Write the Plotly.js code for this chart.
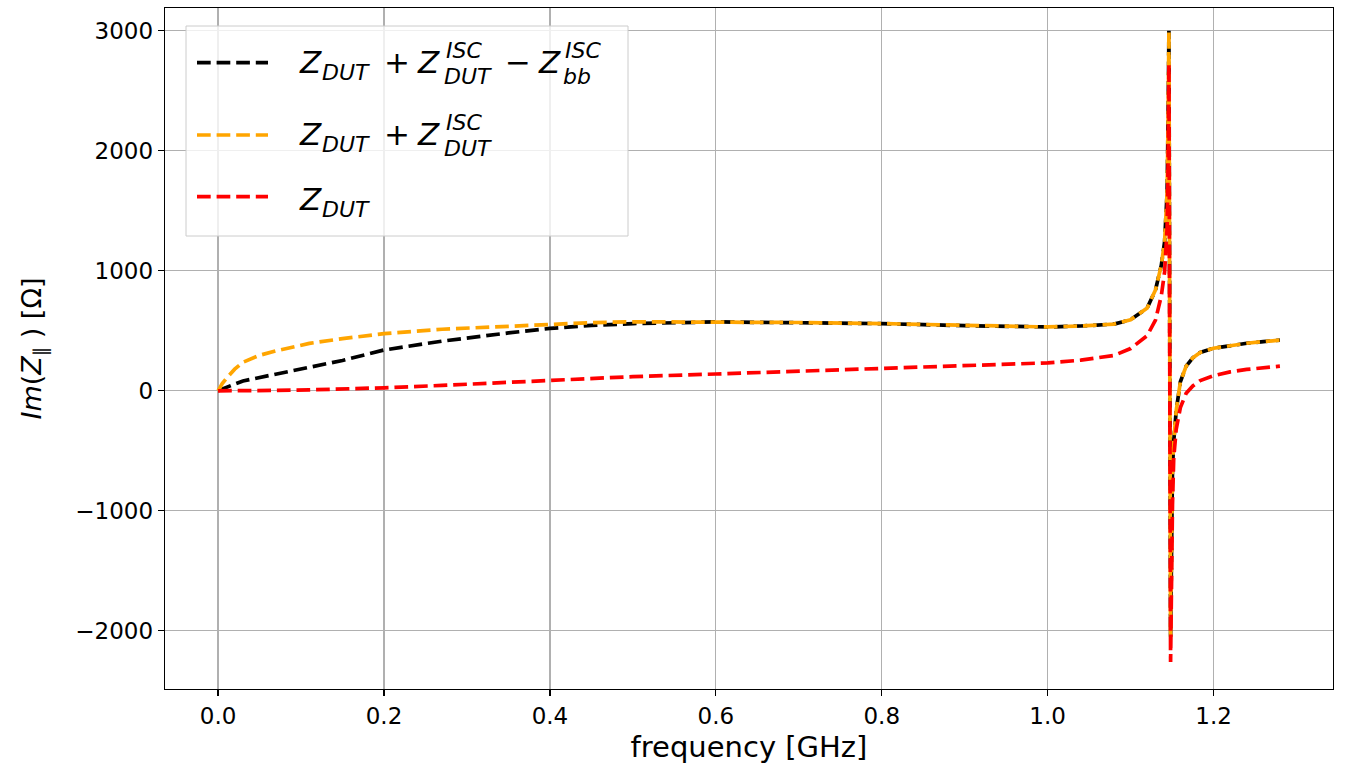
<!DOCTYPE html>
<html>
<head>
<meta charset="utf-8">
<script src="https://cdn.plot.ly/plotly-3.0.1.min.js"></script>
<style>html,body{margin:0;padding:0;background:#fff;}#chart{width:1347px;height:769px;}</style>
</head>
<body>
<div id="chart"></div>
<script>
// ---- data ----
const freq = [0, 0.005, 0.012, 0.02, 0.03, 0.05, 0.07, 0.11, 0.15, 0.2,
  0.27, 0.35, 0.4, 0.45, 0.5, 0.6, 0.7, 0.8, 0.9, 1.0,
  1.04, 1.08, 1.1, 1.12, 1.13, 1.137, 1.141, 1.144, 1.1452, 1.1462,
  1.1482, 1.1492, 1.1505, 1.152, 1.155, 1.16, 1.167, 1.175, 1.184, 1.2,
  1.22, 1.24, 1.26, 1.28];
const zDutIscMinusBb = [0, 12, 34, 56, 82, 110, 137, 200, 253, 340,
  414, 482, 520, 545, 560, 574, 569, 560, 543, 532,
  540, 556, 592, 690, 840, 1045, 1241, 1650, 2250, 3000,
  -2050, -1250, -650, -420, -165, 75, 205, 275, 320, 355,
  378, 396, 410, 422];
const zDutIsc = [0, 60, 120, 180, 238, 296, 333, 395, 435, 476,
  513, 540, 556, 568, 575, 574, 569, 560, 543, 532,
  540, 556, 592, 690, 840, 1045, 1241, 1650, 2250, 3000,
  -2050, -1250, -650, -420, -165, 75, 205, 275, 320, 355,
  378, 396, 410, 422];
const zDut = [0, 0, 0, 0, 1, 2, 3, 8, 15, 25,
  45, 70, 92, 105, 118, 140, 162, 182, 204, 233,
  255, 295, 352, 460, 590, 790, 990, 1350, 1900, 2725,
  -2260, -1500, -950, -560, -320, -140, -20, 40, 85, 125,
  158, 178, 193, 205];
const seriesNames = ['Z_DUT + Z_DUT^ISC − Z_bb^ISC', 'Z_DUT + Z_DUT^ISC', 'Z_DUT'];
const seriesColors = ['#000000', '#FFA500', '#FF0000'];
const xTickVals = [0, 0.2, 0.4, 0.6, 0.8, 1.0, 1.2];
const yTickVals = [-2000, -1000, 0, 1000, 2000, 3000];

// ---- layout geometry ----
const W = 1347, H = 769;
const M = {l: 165, r: 14, t: 8, b: 80};
const PW = W - M.l - M.r, PH = H - M.t - M.b;
const px = (x) => (x - M.l) / PW;
const py = (y) => 1 - (y - M.t) / PH;
const FONT = 'DejaVu Sans';
const LW = 3.7;
const DASH = '13.7px,5.9px';

const ys = [zDutIscMinusBb, zDutIsc, zDut];
const traces = ys.map((y, i) => ({
  type: 'scatter', mode: 'lines', x: freq, y: y, name: seriesNames[i],
  line: {color: seriesColors[i], width: LW, dash: DASH},
  showlegend: false, hoverinfo: 'skip'
}));

// manual legend (matplotlib style, stacked scripts)
const shapes = [{
  type: 'rect', xref: 'paper', yref: 'paper', layer: 'above',
  x0: px(186), x1: px(628), y0: py(236), y1: py(26),
  line: {color: '#cccccc', width: 1}, fillcolor: 'rgba(255,255,255,0.8)'
}];
const sampleY = [62.7, 135, 196.7];
sampleY.forEach((yy, i) => shapes.push({
  type: 'line', xref: 'paper', yref: 'paper', layer: 'above',
  x0: px(197), x1: px(268), y0: py(yy), y1: py(yy),
  line: {color: seriesColors[i], width: LW, dash: DASH}
}));

const big = 31, small = 22;
const pieces = [
  // row 1
  ['<i>Z</i>', 298, 73, big], ['<i>DUT</i>', 321, 80, small], ['+', 383, 73, big],
  ['<i>Z</i>', 416, 73, big], ['<i>ISC</i>', 445, 58, small], ['<i>DUT</i>', 443, 84, small],
  ['−', 504, 73, big], ['<i>Z</i>', 537, 73, big], ['<i>ISC</i>', 564, 58, small], ['<i>bb</i>', 562, 84, small],
  // row 2
  ['<i>Z</i>', 298, 145, big], ['<i>DUT</i>', 321, 152, small], ['+', 383, 145, big],
  ['<i>Z</i>', 416, 145, big], ['<i>ISC</i>', 445, 130, small], ['<i>DUT</i>', 443, 156, small],
  // row 3
  ['<i>Z</i>', 298, 210, big], ['<i>DUT</i>', 321, 217, small]
];
const annotations = pieces.map(p => ({
  text: p[0], xref: 'paper', yref: 'paper', x: px(p[1]), y: py(p[2] - 0.35 * p[3]),
  xanchor: 'left', yanchor: 'middle', showarrow: false, borderpad: 0,
  font: {family: FONT, size: p[3], color: '#000'}
}));

const axisCommon = {
  showline: true, mirror: true, linecolor: '#000', linewidth: 1.3,
  ticks: 'outside', ticklen: 6, tickwidth: 1.3, tickcolor: '#000',
  showgrid: true, gridcolor: '#b0b0b0', gridwidth: 1.2, zeroline: false,
  tickfont: {family: FONT, size: 23, color: '#000'}
};

const layout = {
  width: W, height: H, margin: M,
  paper_bgcolor: '#fff', plot_bgcolor: '#fff',
  showlegend: false,
  xaxis: Object.assign({}, axisCommon, {
    range: [-0.064, 1.344], tickvals: xTickVals, tickformat: '.1f',
    title: {text: 'frequency [GHz]', font: {family: FONT, size: 29, color: '#000'}, standoff: 8}
  }),
  yaxis: Object.assign({}, axisCommon, {
    range: [-2485, 3190], tickvals: yTickVals,
    title: {text: '<i>Im</i>(<i>Z</i><sub>∥</sub> ) [Ω]', font: {family: FONT, size: 27, color: '#000'}, standoff: 25}
  }),
  shapes: shapes,
  annotations: annotations
};

Plotly.newPlot('chart', traces, layout, {displayModeBar: false, staticPlot: true});
</script>
</body>
</html>
